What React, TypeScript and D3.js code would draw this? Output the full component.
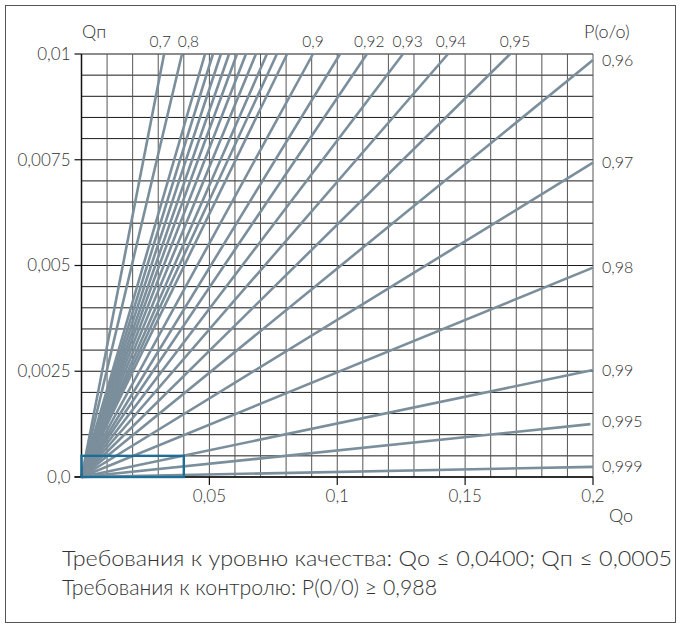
import React from 'react';
import * as d3 from 'd3';

// lines that leave through the top edge (Qп = 0,01): Qo where they hit it
const topEnds = [0.0323, 0.0393, 0.0483, 0.0514, 0.0545, 0.0577, 0.0608, 0.0643, 0.0682,
  0.0725, 0.0764, 0.0804, 0.0905, 0.1011, 0.1116, 0.1257, 0.1433, 0.1676];
// labels above the top edge, placed at Qo
const topLabels = [
  { text: '0,7', x: 0.0308 },
  { text: '0,8', x: 0.0418 },
  { text: '0,9', x: 0.0905 },
  { text: '0,92', x: 0.1125 },
  { text: '0,93', x: 0.1275 },
  { text: '0,94', x: 0.1445 },
  { text: '0,95', x: 0.1695 },
];
// lines that leave through the right edge (Qo = 0,2): Qп there
const rightEnds = [
  { p: '0,96', y: 0.00986, x: 0.2 },
  { p: '0,97', y: 0.00743, x: 0.2 },
  { p: '0,98', y: 0.00495, x: 0.2 },
  { p: '0,99', y: 0.00253, x: 0.2 },
  { p: '0,995', y: 0.00125, x: 0.199 },
  { p: '0,999', y: 0.00024, x: 0.2 },
];
const yTicks = [0, 0.0025, 0.005, 0.0075, 0.01];
const yTickLabels = ['0,0', '0,0025', '0,005', '0,0075', '0,01'];
const xTicks = [0.05, 0.1, 0.15, 0.2];
const xTickLabels = ['0,05', '0,1', '0,15', '0,2'];
const limitBox = { qo: 0.04, qp: 0.0005 };

const W = 681;
const H = 624;
const font = 'Lato, "Noto Sans", sans-serif';
const ink = '#333';

export default function App() {
  const x = d3.scaleLinear().domain([0, 0.2]).range([81.5, 593]);
  const y = d3.scaleLinear().domain([0, 0.01]).range([477, 54]);

  const vGrid = d3.range(0, 21).map(i => i * 0.01);
  const hGrid = d3.range(0, 21).map(i => i * 0.0005);

  const line = d3.line<[number, number]>().x(d => x(d[0])).y(d => y(d[1]));
  const series: [number, number][][] = [
    ...topEnds.map(qo => [[0, 0], [qo, 0.01]] as [number, number][]),
    ...rightEnds.map(r => [[0, 0], [r.x, r.y]] as [number, number][]),
  ];

  return (
    <div style={{ position: 'absolute', left: 0, top: 0 }}>
      <svg width={W} height={H} style={{ display: 'block', background: '#fff' }}>
        <rect x={5.5} y={5.5} width={670} height={617} fill="none" stroke="#555" strokeWidth={1} />

        {/* grid */}
        {hGrid.map((v, i) => (
          <line key={'h' + i} x1={x(0)} x2={x(0.2)} y1={y(v)} y2={y(v)} stroke="#1a1a1a" strokeWidth={1} />
        ))}
        {vGrid.map((v, i) => (
          <line key={'v' + i} x1={x(v)} x2={x(v)} y1={y(0)} y2={y(0.01)} stroke="#555" strokeWidth={1} />
        ))}

        {/* P lines */}
        {series.map((s, i) => (
          <path key={'l' + i} d={line(s) || ''} fill="none" stroke="#7b8e9b" strokeWidth={2.6} />
        ))}

        {/* axes */}
        <line x1={x(0)} x2={x(0)} y1={y(0.01)} y2={y(0) + 1} stroke="#111" strokeWidth={1.5} />
        <line x1={x(0) - 7} x2={x(0.2)} y1={y(0)} y2={y(0)} stroke="#111" strokeWidth={1.5} />
        {yTicks.map((v, i) => (
          <g key={'yt' + i}>
            <line x1={x(0) - 7} x2={x(0)} y1={y(v)} y2={y(v)} stroke="#111" strokeWidth={1.2} />
            <text x={x(0) - 11} y={y(v)} dy="0.35em" textAnchor="end" fontSize={17} fontWeight={300}
              fill={ink} fontFamily={font}>
              {yTickLabels[i]}
            </text>
          </g>
        ))}
        {xTicks.map((v, i) => (
          <g key={'xt' + i}>
            <line x1={x(v)} x2={x(v)} y1={y(0)} y2={y(0) + 8} stroke="#111" strokeWidth={1.2} />
            <text x={x(v)} y={y(0) + 25} textAnchor="middle" fontSize={17} fontWeight={300}
              fill={ink} fontFamily={font}>
              {xTickLabels[i]}
            </text>
          </g>
        ))}

        {/* quality requirement box */}
        <rect x={x(0)} y={y(limitBox.qp)} width={x(limitBox.qo) - x(0)} height={y(0) - y(limitBox.qp)}
          fill="none" stroke="#1d6e97" strokeWidth={2.4} />

        {/* P labels */}
        {topLabels.map((l, i) => (
          <text key={'tl' + i} x={x(l.x)} y={47} textAnchor="middle" fontSize={15.5} fontWeight={300}
            fill={ink} fontFamily={font}>
            {l.text}
          </text>
        ))}
        {rightEnds.map((r, i) => (
          <text key={'rl' + i} x={602} y={y(r.y) + (r.p === '0,995' ? -3 : 0)} dy="0.35em" fontSize={16}
            fontWeight={300} fill={ink} fontFamily={font}>
            {r.p}
          </text>
        ))}

        {/* axis titles */}
        <text x={82} y={38} fontSize={18} fontWeight={300} fill={ink} fontFamily={font}>Qп</text>
        <text x={584} y={38} fontSize={18} fontWeight={300} fill={ink} fontFamily={font}>P(o/o)</text>
        <text x={609} y={522} fontSize={18} fontWeight={300} fill={ink} fontFamily={font}>Qo</text>

        {/* requirements */}
        <text x={62} y={566} fontSize={22} fontWeight={300} fill={ink} fontFamily={font}
          textLength={610} lengthAdjust="spacingAndGlyphs">
          Требования к уровню качества: Qо ≤ 0,0400; Qп  ≤ 0,0005
        </text>
        <text x={62} y={595} fontSize={22} fontWeight={300} fill={ink} fontFamily={font}
          textLength={375} lengthAdjust="spacingAndGlyphs">
          Требования к контролю: P(0/0) ≥ 0,988
        </text>
      </svg>
    </div>
  );
}
